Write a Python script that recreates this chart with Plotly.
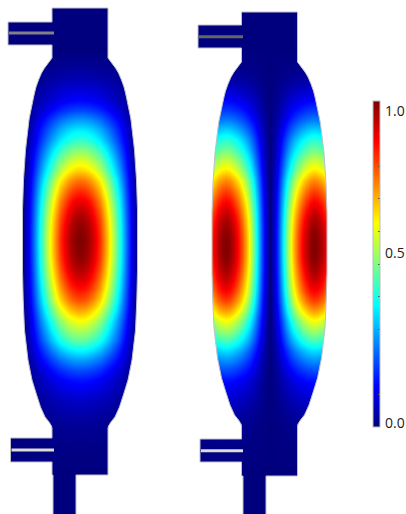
import numpy as np
import plotly.graph_objects as go

# Field profiles (axial: one value per 10 px of height)
y_grid = list(range(0, 530, 10))
left_axial = [0, 0, 0, 0, 0, 0, .012, .03, .055, .09, .125, .19, .28, .36, .425, .51, .59, .665, .76, .83, .89,
              .935, .97, .99, 1, .995, .98, .95, .91, .86, .80, .715, .625, .55, .475, .375, .28, .20, .14, .105,
              .07, .05, .03, .02, .012, .006, .003, 0, 0, 0, 0, 0, 0]
right_axial = [0, 0, 0, 0, 0, 0, .01, .02, .04, .08, .125, .18, .25, .335, .42, .49, .57, .645, .74, .81, .87,
               .92, .96, .985, .998, 1, .99, .965, .93, .885, .82, .73, .625, .54, .45, .35, .27, .20, .14, .105,
               .075, .05, .03, .02, .012, .006, .003, 0, 0, 0, 0, 0, 0]
# Radial profiles, one value per 4 px from each axis
d_grid = list(range(0, 76, 4))
left_radial = [1, .993, .97, .935, .885, .83, .75, .67, .58, .49, .395, .29, .19, .10, .03, 0, 0, 0, 0]
right_radial = [0, .08, .19, .33, .47, .60, .71, .80, .875, .935, .98, 1, .985, .95, .89, .80, .70, .60, .50]

left_axis = 80
right_axis = 270

# Outline: half-width of the bulged body against height
left_body_y = [58, 62, 68, 73, 80, 87, 93, 100, 117, 120, 150, 180, 210, 240, 270, 300, 330, 360, 380, 393, 407, 417, 422, 426, 428]
right_body_y = [62, 66, 72, 77, 84, 91, 97, 104, 121, 124, 153, 183, 213, 243, 273, 298, 328, 358, 378, 391, 405, 415, 420, 424, 426]
body_hw = [28, 31, 35.5, 38.5, 41.5, 44, 45.5, 47, 50.5, 51, 54.5, 56.5, 57.5, 57.5, 57.5, 56.8, 55.5, 52, 48, 44, 39.5, 35, 31, 28.5, 28]
# Left and right cavity features
left_top, left_bottom = 8, 475
right_top, right_bottom = 12, 476
left_port_top = (8, 22, 45, 33)      # x, y0, y1, slit y
left_port_bot = (10.5, 438, 462, 450)
right_port_top = (198, 25, 48, 36.7)
right_port_bot = (200, 439, 462, 450.7)
left_tube = (53, 76)
right_tube = (243, 266)

# Colour scale and legend text
jet = [[0, '#00007f'], [.125, '#0000ff'], [.375, '#00ffff'], [.625, '#ffff00'], [.875, '#ff0000'], [1, '#7f0000']]
bar_ticks = [0, .1, .2, .3, .4, .5, .6, .7, .8, .9, 1]
bar_labels = ['1.0', '0.5', '0.0']
bar_label_y = [110, 252, 422]


def mirrored(axis, radial):
    xs = [axis - d for d in d_grid[:0:-1]] + [axis + d for d in d_grid]
    vals = radial[:0:-1] + radial
    return xs, vals


def outline(cx, top, bottom, body_y, ptop, pbot, tube):
    hw0 = 28
    pts = [(cx - hw0, top), (cx + hw0, top)]
    pts += [(cx + w, y) for y, w in zip(body_y, body_hw)]
    pts += [(cx + hw0, bottom), (tube[1], bottom), (tube[1], 520), (tube[0], 520), (tube[0], bottom), (cx - hw0, bottom)]
    pts += [(cx - hw0, pbot[2]), (pbot[0], pbot[2]), (pbot[0], pbot[1]), (cx - hw0, pbot[1])]
    pts += [(cx - w, y) for y, w in zip(body_y[::-1], body_hw[::-1])]
    pts += [(cx - hw0, ptop[2]), (ptop[0], ptop[2]), (ptop[0], ptop[1]), (cx - hw0, ptop[1])]
    return 'M' + ' L'.join(f'{x},{y}' for x, y in pts) + ' Z'


fig = go.Figure()
lx, lr = mirrored(left_axis, left_radial)
rx, rr = mirrored(right_axis, right_radial)
fig.add_trace(go.Heatmap(x=lx, y=y_grid, z=np.outer(left_axial, lr), zmin=0, zmax=1, colorscale=jet,
                         zsmooth='best', hoverinfo='skip', showscale=True,
                         colorbar=dict(x=373 / 406, xanchor='left', xpad=0, ypad=0, thickness=7, thicknessmode='pixels',
                                       len=326 / 514, lenmode='fraction', y=(514 - 427) / 514, yanchor='bottom',
                                       tickvals=bar_ticks, ticktext=[''] * len(bar_ticks), ticks='inside', ticklen=2,
                                       tickcolor='#555555', tickwidth=1, outlinecolor='#bbbbbb', outlinewidth=1)))
fig.add_trace(go.Heatmap(x=rx, y=y_grid, z=np.outer(right_axial, rr), zmin=0, zmax=1, colorscale=jet,
                         zsmooth='best', hoverinfo='skip', showscale=False))

mask = 'M-5,-5 L411,-5 L411,519 L-5,519 Z ' + \
       outline(left_axis, left_top, left_bottom, left_body_y, left_port_top, left_port_bot, left_tube) + ' ' + \
       outline(right_axis - 0.5, right_top, right_bottom, right_body_y, right_port_top, right_port_bot, right_tube)
fig.add_shape(type='path', path=mask, fillcolor='white', fillrule='evenodd', layer='above',
              line=dict(color='#c0c0c8', width=1), xref='x', yref='y')

for port, col in [(left_port_top, '#80808a'), (right_port_top, '#66665f'),
                  (left_port_bot, '#dcdcd4'), (right_port_bot, '#dcdcd4')]:
    fig.add_trace(go.Scatter(x=[port[0] + 1, 54 if port[0] < 100 else 243], y=[port[3], port[3]], mode='lines',
                             line=dict(color=col, width=3), hoverinfo='skip', showlegend=False))

for label, ly in zip(bar_labels, bar_label_y):
    fig.add_annotation(x=383, y=ly, text=label, showarrow=False, xanchor='left', yanchor='middle',
                       font=dict(family='Open Sans', size=14, color='#222222'))

fig.update_xaxes(range=[0, 406], visible=False)
fig.update_yaxes(range=[514, 0], visible=False)
fig.update_layout(width=406, height=514, margin=dict(l=0, r=0, t=0, b=0), autosize=False,
                  paper_bgcolor='white', plot_bgcolor='white', showlegend=False)
fig.write_html("out.html", config={'displayModeBar': False},
               post_script="document.body.style.margin='0';")
